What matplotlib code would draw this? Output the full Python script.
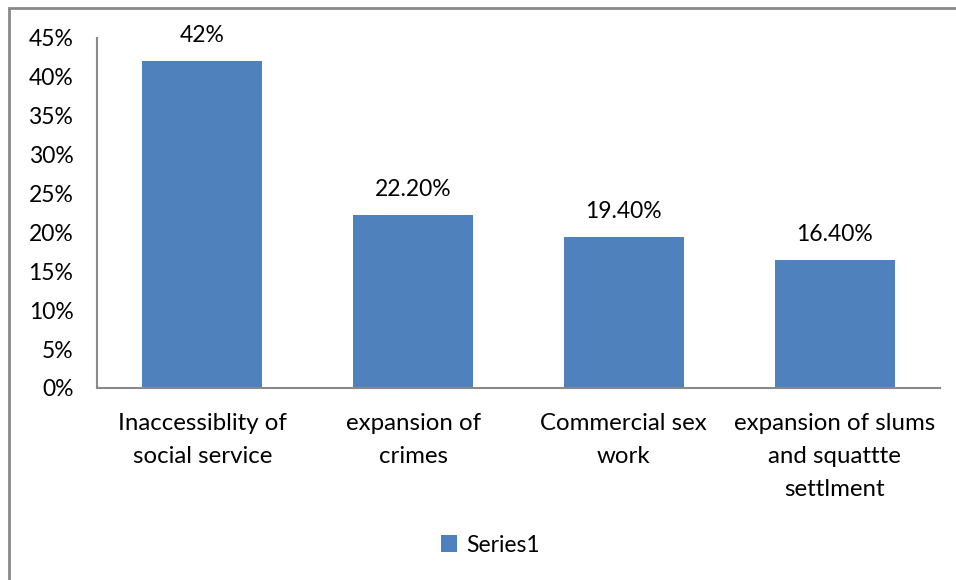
import matplotlib.pyplot as plt
from matplotlib.patches import Rectangle
from matplotlib.ticker import FuncFormatter

categories = ['Inaccessiblity of\nsocial service', 'expansion of\ncrimes',
              'Commercial sex\nwork', 'expansion of slums\nand squattte\nsettlment']
values = [42, 22.2, 19.4, 16.4]
value_labels = ['42%', '22.20%', '19.40%', '16.40%']

plt.rcParams['font.family'] = ['Lato', 'DejaVu Sans']
bar_color = '#4f81bd'
axis_color = '#898989'
fs = 16.5

fig = plt.figure(figsize=(9.56, 5.8), dpi=100)
# outer chart frame
fig.patches.append(Rectangle((9 / 956, -0.05), 1.0, 1 - 8 / 580 + 0.05,
                             transform=fig.transFigure, fill=False,
                             edgecolor=axis_color, linewidth=2))

ax = fig.add_axes([97 / 956, 1 - 388 / 580, 843 / 956, 350 / 580])
x = range(len(categories))
bars = ax.bar(x, values, width=0.57, color=bar_color, label='Series1')
for b, lab in zip(bars, value_labels):
    ax.text(b.get_x() + b.get_width() / 2, b.get_height() + 2.0, lab,
            ha='center', va='bottom', fontsize=fs)

ax.set_xlim(-0.5, len(categories) - 0.5)
ax.set_ylim(0, 45)
ax.set_yticks(range(0, 46, 5))
ax.yaxis.set_major_formatter(FuncFormatter(lambda v, p: f'{int(v)}%'))
ax.set_xticks(list(x))
ax.set_xticklabels(categories, fontsize=17.3, linespacing=1.72)
ax.tick_params(axis='y', length=0, labelsize=fs, pad=17)
ax.tick_params(axis='x', length=0, pad=18)
for side in ['top', 'right']:
    ax.spines[side].set_visible(False)
for side in ['left', 'bottom']:
    ax.spines[side].set_color(axis_color)
    ax.spines[side].set_linewidth(1.5)

fig.legend(handles=[bars], labels=['Series1'], loc='center',
           bbox_to_anchor=(490 / 956, 1 - 545 / 580), frameon=False,
           fontsize=fs, handlelength=0.7, handleheight=0.7, handletextpad=0.4)

fig.savefig('out.png', dpi=100)
